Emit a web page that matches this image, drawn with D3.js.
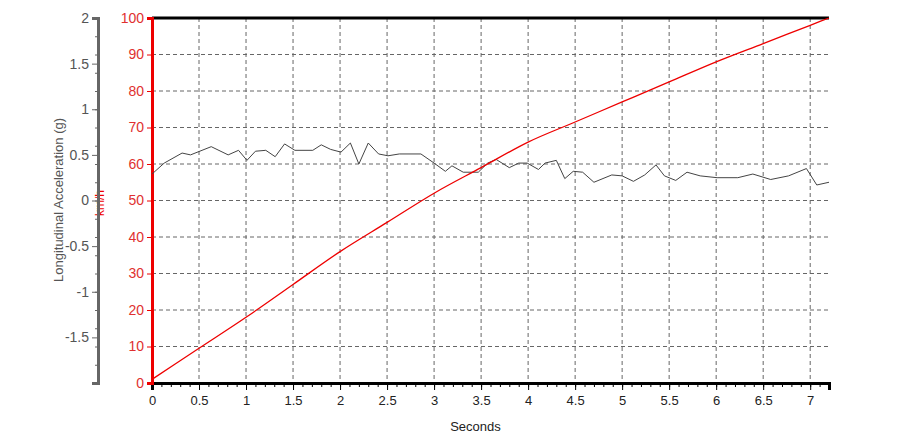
<!DOCTYPE html><html><head><meta charset="utf-8"><script src="https://cdn.jsdelivr.net/npm/d3@7"></script>
<style>body{margin:0;background:#fff}text{font-family:Arial,"Liberation Sans",sans-serif}</style></head><body>
<svg id="c" width="900" height="447"></svg>
<script>
const speedT=[0,0.5,1,1.5,2,2.5,3,3.5,4,4.5,5,5.5,6,6.5,7,7.2];
const speedV=[1,9.5,18,27,36,44,52,59,66,71.5,77,82.5,88,93,98,100];
const accT=[0,0.13,0.32,0.41,0.63,0.81,0.92,1.01,1.10,1.21,1.31,1.41,1.52,1.71,1.80,1.90,2.01,2.11,2.20,2.30,2.41,2.51,2.63,2.86,3.00,3.12,3.19,3.31,3.47,3.57,3.66,3.80,3.90,3.99,4.11,4.18,4.30,4.39,4.48,4.58,4.70,4.89,5.00,5.12,5.24,5.36,5.45,5.57,5.69,5.83,6.01,6.23,6.39,6.58,6.77,6.96,7.07,7.2];
const accG=[0.29,0.41,0.52,0.50,0.59,0.50,0.55,0.44,0.54,0.55,0.48,0.62,0.55,0.55,0.61,0.56,0.53,0.63,0.40,0.63,0.51,0.49,0.51,0.51,0.41,0.32,0.38,0.31,0.31,0.41,0.45,0.36,0.41,0.41,0.34,0.41,0.44,0.24,0.32,0.31,0.20,0.28,0.27,0.21,0.28,0.39,0.27,0.22,0.31,0.27,0.25,0.25,0.29,0.23,0.27,0.35,0.17,0.20];
const xTicks=[0,0.5,1,1.5,2,2.5,3,3.5,4,4.5,5,5.5,6,6.5,7];
const kmTicks=[0,10,20,30,40,50,60,70,80,90,100];
const gTicks=[-1.5,-1,-0.5,0,0.5,1,1.5,2];
const svg=d3.select("#c");
const L=152,R=829,T=18,B=383;
const x=d3.scaleLinear([0,7.2],[L,R]);
const yk=d3.scaleLinear([0,100],[B,T]);
const yg=d3.scaleLinear([-2,2],[B,T]);
const g=svg.append("g").attr("stroke","#666").attr("stroke-dasharray","4,3").attr("stroke-width",1);
xTicks.slice(1).forEach(t=>g.append("line").attr("x1",x(t)).attr("x2",x(t)).attr("y1",T).attr("y2",B));
kmTicks.slice(1,-1).forEach(v=>g.append("line").attr("x1",L).attr("x2",R).attr("y1",yk(v)).attr("y2",yk(v)));
svg.append("line").attr("x1",L).attr("x2",R).attr("y1",T).attr("y2",T).attr("stroke","#000").attr("stroke-width",3);
const xa=svg.append("g").attr("transform",`translate(0,${B})`).call(d3.axisBottom(x).tickValues(xTicks).tickFormat(d=>String(d)).tickSize(7));
xa.select(".domain").attr("stroke-width",3);
xa.selectAll("text").attr("font-size",13).attr("fill","#222").attr("dy","0.9em");
svg.append("g").attr("transform",`translate(0,${B})`).call(d3.axisBottom(x).ticks(72).tickFormat("").tickSize(4)).select(".domain").remove();
svg.append("text").attr("x",(L+R)/2-15).attr("y",431).attr("text-anchor","middle").attr("font-size",13).attr("fill","#222").text("Seconds");
const ka=svg.append("g").attr("transform",`translate(${L},0)`).call(d3.axisLeft(yk).tickValues(kmTicks).tickFormat(d=>String(d)).tickSize(5));
ka.select(".domain").attr("stroke","#e00").attr("stroke-width",3);
ka.selectAll("line").attr("stroke","#e00");
ka.selectAll("text").attr("fill","#e03030").attr("font-size",14);
svg.append("text").attr("transform","translate(104,203) rotate(-90)").attr("text-anchor","middle").attr("fill","#e00").attr("font-size",12).text("km/h");
const ga=svg.append("g").attr("transform",`translate(98,0)`).call(d3.axisLeft(yg).tickValues(gTicks).tickFormat(d=>String(d)).tickSize(6));
ga.select(".domain").attr("stroke","#666").attr("stroke-width",3);
ga.selectAll("line").attr("stroke","#666");
ga.selectAll("text").attr("fill","#555").attr("font-size",14);
svg.append("g").attr("transform",`translate(98,0)`).call(d3.axisLeft(yg).ticks(20).tickFormat("").tickSize(3)).call(s=>{s.select(".domain").remove();s.selectAll("line").attr("stroke","#666");});
svg.append("text").attr("transform","translate(63,200) rotate(-90)").attr("text-anchor","middle").attr("fill","#555").attr("font-size",13).text("Longitudinal Acceleration (g)");
svg.append("path").datum(accT.map((t,i)=>[t,accG[i]])).attr("fill","none").attr("stroke","#444").attr("stroke-width",1)
 .attr("d",d3.line().x(d=>x(d[0])).y(d=>yg(d[1])));
svg.append("path").datum(speedT.map((t,i)=>[t,speedV[i]])).attr("fill","none").attr("stroke","#e00").attr("stroke-width",1.3)
 .attr("d",d3.line().curve(d3.curveMonotoneX).x(d=>x(d[0])).y(d=>yk(d[1])));
</script></body></html>
